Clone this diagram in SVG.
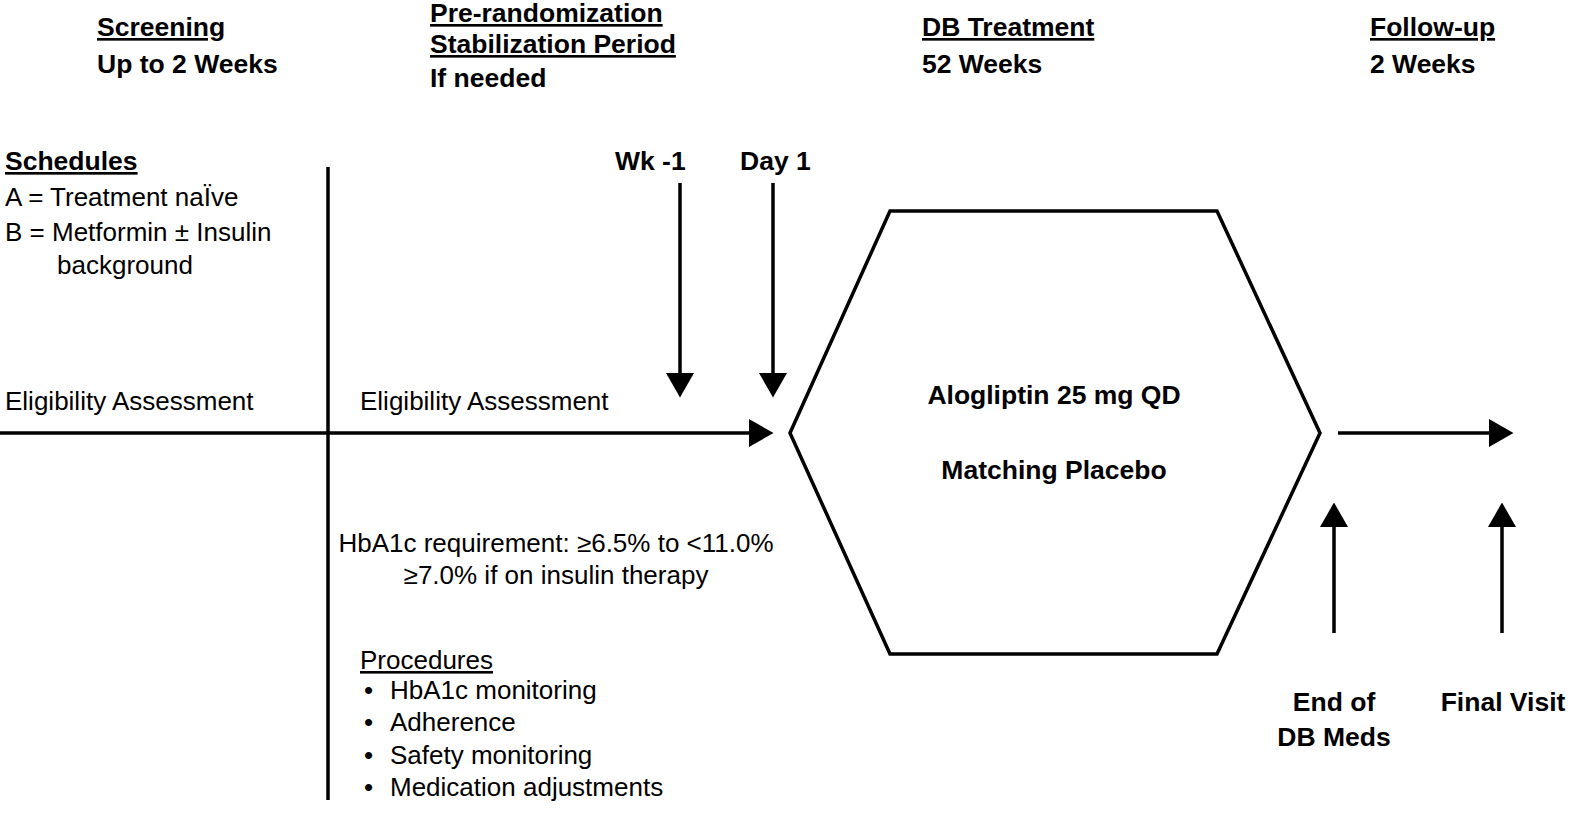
<svg xmlns="http://www.w3.org/2000/svg" width="1594" height="820" viewBox="0 0 1594 820">
<style>
text{font-family:"Liberation Sans",Arial,sans-serif;font-size:26px;fill:#000}
.b{font-weight:bold;font-size:26.5px}
.u{text-decoration:underline}
.c{text-anchor:middle}
.ln{stroke:#000;stroke-width:3.5;fill:none}
</style>
<defs><marker id="ah" markerWidth="7" markerHeight="8" refX="6" refY="4" orient="auto" markerUnits="strokeWidth"><path d="M0,0L7,4L0,8z" fill="#000"/></marker></defs>
<g id="headers">
<text class="b u" x="97" y="36">Screening</text>
<text class="b" x="97" y="73">Up to 2 Weeks</text>
<text class="b u" x="430" y="22">Pre-randomization</text>
<text class="b u" x="430" y="53">Stabilization Period</text>
<text class="b" x="430" y="87">If needed</text>
<text class="b u" x="922" y="36">DB Treatment</text>
<text class="b" x="922" y="73">52 Weeks</text>
<text class="b u" x="1370" y="36">Follow-up</text>
<text class="b" x="1370" y="73">2 Weeks</text>
</g>
<g id="schedules">
<text class="b u" x="5" y="170">Schedules</text>
<text x="5" y="206">A = Treatment naÏve</text>
<text x="5" y="241">B = Metformin ± Insulin</text>
<text x="57" y="274">background</text>
</g>
<g id="treatment">
<polygon class="ln" points="790,433 890,211 1217,211 1320,433 1217,654 890,654"/>
<text class="b c" x="1054" y="404">Alogliptin 25 mg QD</text>
<text class="b c" x="1054" y="479">Matching Placebo</text>
</g>
<g id="labels">
<text x="5" y="410">Eligibility Assessment</text>
<text x="360" y="410">Eligibility Assessment</text>
<text class="b" x="615" y="170">Wk -1</text>
<text class="b" x="740" y="170">Day 1</text>
<text class="c" x="556" y="552">HbA1c requirement: ≥6.5% to &lt;11.0%</text>
<text class="c" x="556" y="584">≥7.0% if on insulin therapy</text>
<text class="u" x="360" y="669">Procedures</text>
<text x="364" y="699">•</text><text x="390" y="699">HbA1c monitoring</text>
<text x="364" y="731">•</text><text x="390" y="731">Adherence</text>
<text x="364" y="764">•</text><text x="390" y="764">Safety monitoring</text>
<text x="364" y="796">•</text><text x="390" y="796">Medication adjustments</text>
<text class="b c" x="1334" y="711">End of</text>
<text class="b c" x="1334" y="746">DB Meds</text>
<text class="b c" x="1503" y="711">Final Visit</text>
</g>
<g id="connectors">
<line class="ln" x1="328" y1="167" x2="328" y2="800"/>
<line class="ln" x1="0" y1="433" x2="770" y2="433" marker-end="url(#ah)"/>
<line class="ln" x1="680" y1="183" x2="680" y2="394" marker-end="url(#ah)"/>
<line class="ln" x1="773" y1="183" x2="773" y2="394" marker-end="url(#ah)"/>
<line class="ln" x1="1338" y1="433" x2="1510" y2="433" marker-end="url(#ah)"/>
<line class="ln" x1="1334" y1="633" x2="1334" y2="506" marker-end="url(#ah)"/>
<line class="ln" x1="1502" y1="633" x2="1502" y2="506" marker-end="url(#ah)"/>
</g>
</svg>
